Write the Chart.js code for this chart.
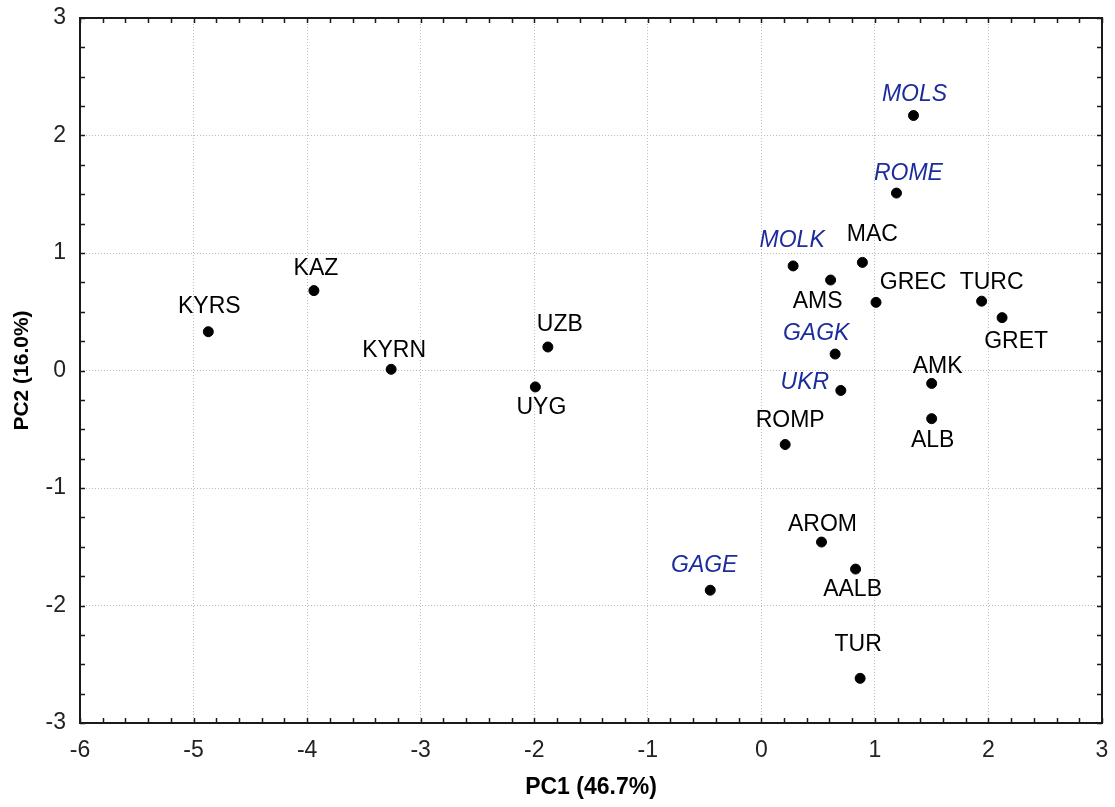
<!DOCTYPE html>
<html>
<head>
<meta charset="utf-8">
<script src="https://cdn.jsdelivr.net/npm/chart.js@4.4.1/dist/chart.umd.min.js"></script>
<style>
  html, body { margin: 0; padding: 0; background: #fff; }
  #wrap { width: 1115px; height: 807px; }
</style>
</head>
<body>
<div id="wrap"><canvas id="pca"></canvas></div>
<script>
// population scores on the first two principal components
const populations = ['KYRS', 'KAZ', 'KYRN', 'UZB', 'UYG', 'MOLS', 'ROME', 'MOLK', 'MAC', 'AMS', 'GREC',
                     'TURC', 'GRET', 'GAGK', 'UKR', 'AMK', 'ALB', 'ROMP', 'AROM', 'AALB', 'GAGE', 'TUR'];
const pc1 = [-4.87, -3.94, -3.26, -1.88, -1.99, 1.34, 1.19, 0.28, 0.89, 0.61, 1.01,
             1.94, 2.12, 0.65, 0.70, 1.50, 1.50, 0.21, 0.53, 0.83, -0.45, 0.87];
const pc2 = [0.33, 0.68, 0.01, 0.20, -0.14, 2.17, 1.51, 0.89, 0.92, 0.77, 0.58,
             0.59, 0.45, 0.14, -0.17, -0.11, -0.41, -0.63, -1.46, -1.69, -1.87, -2.62];
// these get blue italic names
const highlighted = ['MOLS', 'ROME', 'MOLK', 'GAGK', 'UKR', 'GAGE'];

const xTickValues = [-6, -5, -4, -3, -2, -1, 0, 1, 2, 3];
const yTickValues = [-3, -2, -1, 0, 1, 2, 3];
const xTitle = 'PC1 (46.7%)';
const yTitle = 'PC2 (16.0%)';

// where each name sits relative to its dot (px)
const labelShift = {
  KYRS: [1, -27], KAZ: [2, -24], KYRN: [3, -21], UZB: [12, -24], UYG: [6, 19],
  MOLS: [1, -23], ROME: [12, -21], MOLK: [-1, -27], MAC: [10, -30], AMS: [-13, 20],
  GREC: [37, -22], TURC: [10, -20], GRET: [14, 22], GAGK: [-19, -22], UKR: [-36, -10],
  AMK: [6, -19], ALB: [1, 20], ROMP: [5, -26], AROM: [1, -19], AALB: [-3, 19],
  GAGE: [-6, -26], TUR: [-2, -36]
};

const FONT = 'Arial, "Liberation Sans", sans-serif';

// frame on all four sides + inward major/minor ticks
const framePlugin = {
  id: 'frame',
  afterDatasetsDraw(chart) {
    const { ctx, chartArea: a, scales: { x, y } } = chart;
    ctx.save();
    ctx.strokeStyle = '#1a1a1a';
    ctx.lineWidth = 1.5;
    ctx.beginPath();
    for (let i = 0; i <= 45; i++) {
      const px = Math.round(x.getPixelForValue(-6 + i * 0.2)) + 0.5;
      ctx.moveTo(px, a.bottom); ctx.lineTo(px, a.bottom - 5);
      ctx.moveTo(px, a.top); ctx.lineTo(px, a.top + 5);
    }
    for (let i = 0; i <= 24; i++) {
      const py = Math.round(y.getPixelForValue(-3 + i * 0.25)) + 0.5;
      ctx.moveTo(a.left, py); ctx.lineTo(a.left + 5, py);
      ctx.moveTo(a.right, py); ctx.lineTo(a.right - 5, py);
    }
    ctx.stroke();
    ctx.lineWidth = 2;
    ctx.strokeRect(a.left, a.top, a.right - a.left, a.bottom - a.top);
    ctx.restore();
  }
};

// population names next to the dots
const namesPlugin = {
  id: 'names',
  afterDatasetsDraw(chart) {
    const { ctx, scales: { x, y } } = chart;
    const size = 23;
    ctx.save();
    ctx.textAlign = 'center';
    ctx.textBaseline = 'alphabetic';
    populations.forEach((name, i) => {
      const blue = highlighted.includes(name);
      ctx.font = (blue ? 'italic ' : '') + size + 'px ' + FONT;
      ctx.fillStyle = blue ? '#1c2c9c' : '#000';
      const [dx, dy] = labelShift[name];
      const px = x.getPixelForValue(pc1[i]) + dx;
      const py = y.getPixelForValue(pc2[i]) + dy + size * 0.358;
      ctx.fillText(name, px, py);
    });
    ctx.restore();
  }
};

new Chart(document.getElementById('pca'), {
  type: 'scatter',
  data: {
    datasets: [{
      data: pc1.map((v, i) => ({ x: v, y: pc2[i] })),
      backgroundColor: '#000',
      borderColor: '#000',
      pointRadius: 5,
      pointHoverRadius: 5
    }]
  },
  options: {
    responsive: true,
    maintainAspectRatio: false,
    animation: false,
    events: [],
    layout: { padding: { top: 18, right: 13, left: 0, bottom: 0 } },
    plugins: { legend: { display: false }, tooltip: { enabled: false } },
    scales: {
      x: {
        type: 'linear', min: -6, max: 3,
        afterBuildTicks: s => { s.ticks = xTickValues.map(v => ({ value: v })); },
        afterFit: s => { s.height = 84; s.paddingLeft = 0; s.paddingRight = 0; },
        ticks: { color: '#222', padding: 14, font: { family: FONT, size: 23 } },
        grid: { color: '#bdbdbd', lineWidth: 1, drawTicks: false },
        border: { display: false, dash: [1, 2] },
        title: { display: true, text: xTitle, color: '#000', padding: { top: 0, bottom: 6 },
                 font: { family: FONT, size: 23, weight: 'bold' } }
      },
      y: {
        type: 'linear', min: -3, max: 3,
        afterBuildTicks: s => { s.ticks = yTickValues.map(v => ({ value: v })); },
        afterFit: s => { s.width = 80; s.paddingTop = 0; s.paddingBottom = 0; },
        ticks: { color: '#222', padding: 14, font: { family: FONT, size: 23 } },
        grid: { color: '#bdbdbd', lineWidth: 1, drawTicks: false },
        border: { display: false, dash: [1, 2] },
        title: { display: true, text: yTitle, color: '#000', padding: { top: 10, bottom: 0 },
                 font: { family: FONT, size: 21, weight: 'bold' } }
      }
    }
  },
  plugins: [framePlugin, namesPlugin]
});
</script>
</body>
</html>
